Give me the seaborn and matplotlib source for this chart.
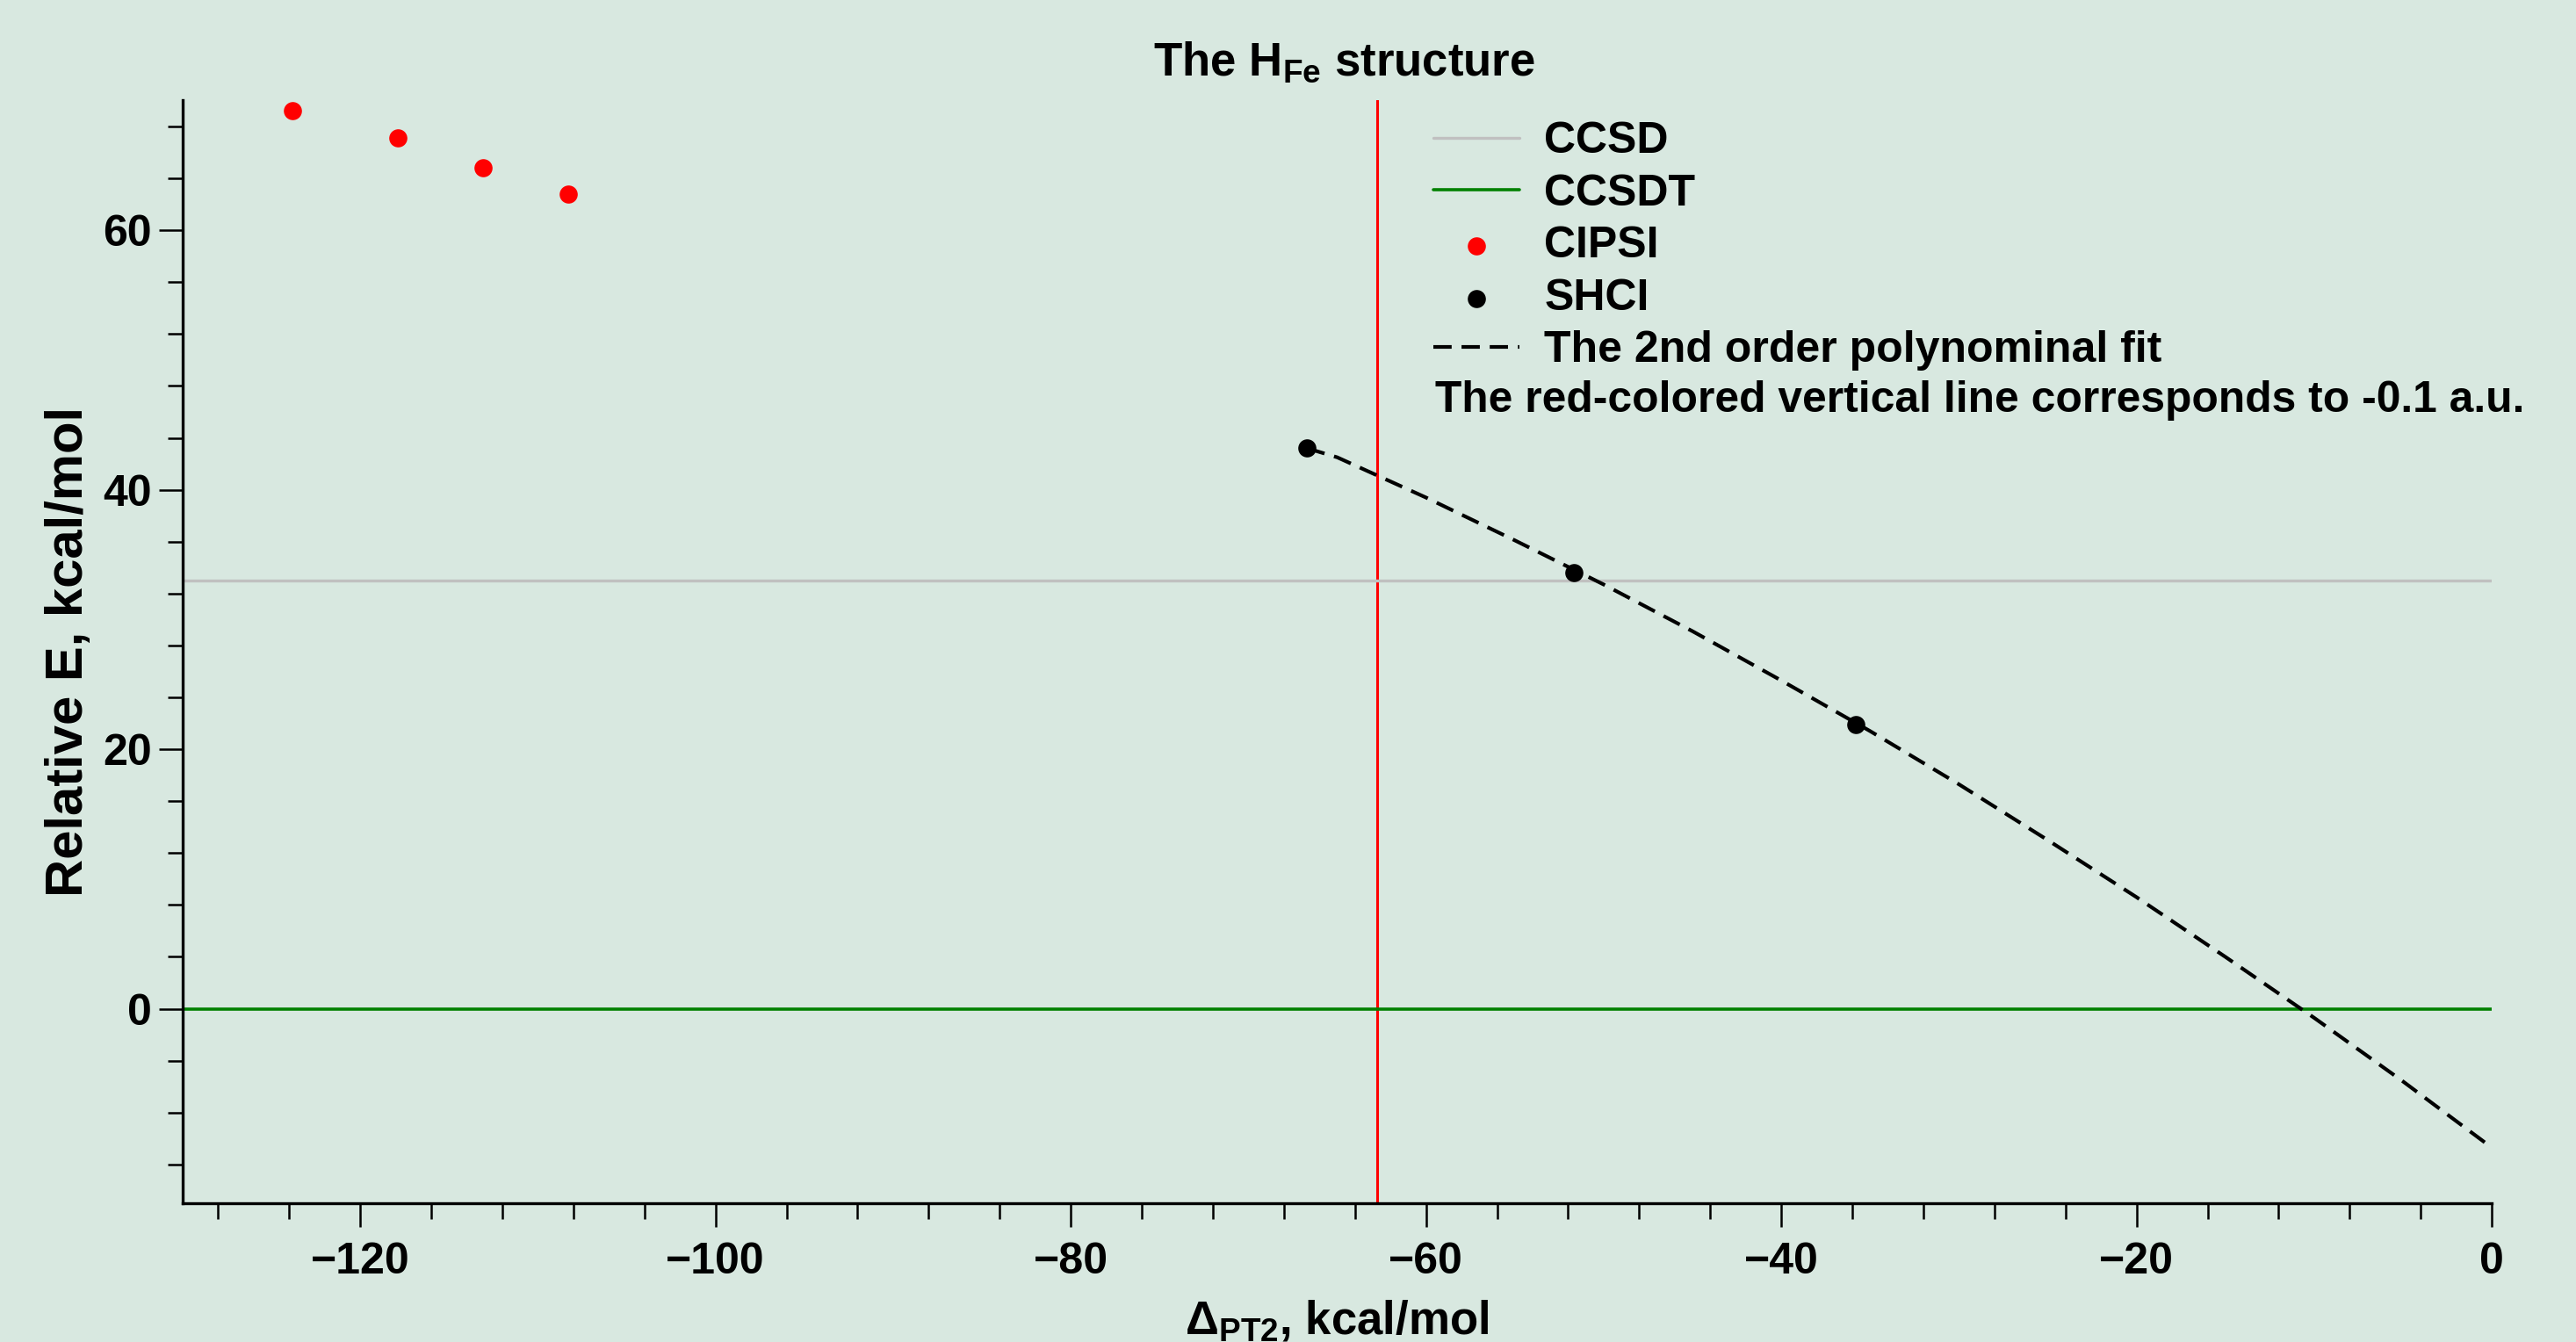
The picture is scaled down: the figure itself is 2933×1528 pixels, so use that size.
import numpy as np
import pandas as pd
import matplotlib
matplotlib.use("Agg")
import matplotlib.pyplot as plt
import seaborn as sns
from matplotlib.ticker import MultipleLocator

# values (kcal/mol)
cipsi_x = [-123.8, -117.9, -113.1, -108.3]
cipsi_y = [69.2, 67.1, 64.8, 62.8]

shci_x = [-66.7, -51.7, -35.8]
shci_y = [43.2, 33.6, 21.9]

# dashed 2nd order fit, as traced on the picture
fit_x = [-66.7, -65, -60, -55, -50, -45, -40, -35, -30, -25, -20, -15, -10, -5, 0]
fit_y = [43.2, 42.5, 39.4, 36.1, 32.7, 29.1, 25.3, 21.4, 17.3, 13.0, 8.6, 4.0, -0.7, -5.6, -10.7]

ccsd_e = 33.0
ccsdt_e = 0.0
cutoff_x = -62.75   # -0.1 a.u.

bg = "#d8e8e0"

sns.set_style("ticks", {"axes.facecolor": bg, "figure.facecolor": bg,
                        "axes.edgecolor": "black", "xtick.color": "black",
                        "ytick.color": "black", "text.color": "black",
                        "axes.labelcolor": "black"})
plt.rcParams["font.family"] = ["Liberation Sans", "DejaVu Sans"]
plt.rcParams["font.weight"] = "bold"
plt.rcParams["text.color"] = "black"
plt.rcParams["mathtext.fontset"] = "custom"
plt.rcParams["mathtext.rm"] = "Liberation Sans"
plt.rcParams["mathtext.it"] = "Liberation Sans:italic"
plt.rcParams["mathtext.bf"] = "Liberation Sans:bold"

fig = plt.figure(figsize=(29.33, 15.28), dpi=100)
ax = fig.add_axes([0.0709, 0.1033, 0.8964, 0.8218])

# red vertical line at -0.1 a.u.
ax.axvline(cutoff_x, color="red", lw=2.2, zorder=1)

ax.axhline(ccsd_e, color="#c0c0c0", lw=2.4, label="CCSD", zorder=2)
ax.axhline(ccsdt_e, color="green", lw=2.6, label="CCSDT", zorder=2)

sns.scatterplot(x=cipsi_x, y=cipsi_y, ax=ax, color="red", s=220,
                linewidth=0, label="CIPSI", zorder=4)
sns.scatterplot(x=shci_x, y=shci_y, ax=ax, color="black", s=220,
                linewidth=0, label="SHCI", zorder=4)
sns.lineplot(x=fit_x, y=fit_y, ax=ax, color="black", lw=3.0,
             linestyle=(0, (5.0, 2.7)), label="The 2nd order polynominal fit",
             zorder=3)

ax.set_xlim(-130, 0)
ax.set_ylim(-15, 70)

ax.xaxis.set_major_locator(MultipleLocator(20))
ax.xaxis.set_minor_locator(MultipleLocator(4))
ax.yaxis.set_major_locator(MultipleLocator(20))
ax.yaxis.set_minor_locator(MultipleLocator(4))

ax.tick_params(which="major", length=19.5, width=1.8, direction="out",
               labelsize=36, labelcolor="black")
ax.tick_params(which="minor", length=12.6, width=1.8, direction="out")
ax.tick_params(axis="x", which="major", pad=12)
ax.tick_params(axis="y", which="major", pad=6)

sns.despine(ax=ax)
for s in ["left", "bottom"]:
    ax.spines[s].set_linewidth(2.4)

ax.set_title("The H$_{\\rm Fe}$ structure", fontsize=38, fontweight="bold",
             pad=21, color="black", x=0.503)
ax.set_xlabel("Δ$_{\\rm PT2}$, kcal/mol", fontsize=38, fontweight="bold", color="black")
ax.set_ylabel("Relative E, kcal/mol", fontsize=43, fontweight="bold", color="black")
ax.xaxis.set_label_coords(0.5, -0.086)
ax.yaxis.set_label_coords(-0.0388, 0.5)

leg = ax.legend(loc="upper left", bbox_to_anchor=(0.5564, 0.9095),
                bbox_transform=fig.transFigure, frameon=False, fontsize=36,
                handlelength=1.97, handletextpad=0.56, labelspacing=0.27,
                borderpad=0, borderaxespad=0)
for t in leg.get_texts():
    t.set_color("black")

fig.text(0.5571, 0.6933, "The red-colored vertical line corresponds to -0.1 a.u.",
         fontsize=35.8, fontweight="bold", va="baseline", ha="left", color="black")

fig.savefig("out.png", dpi=100, facecolor=bg)
